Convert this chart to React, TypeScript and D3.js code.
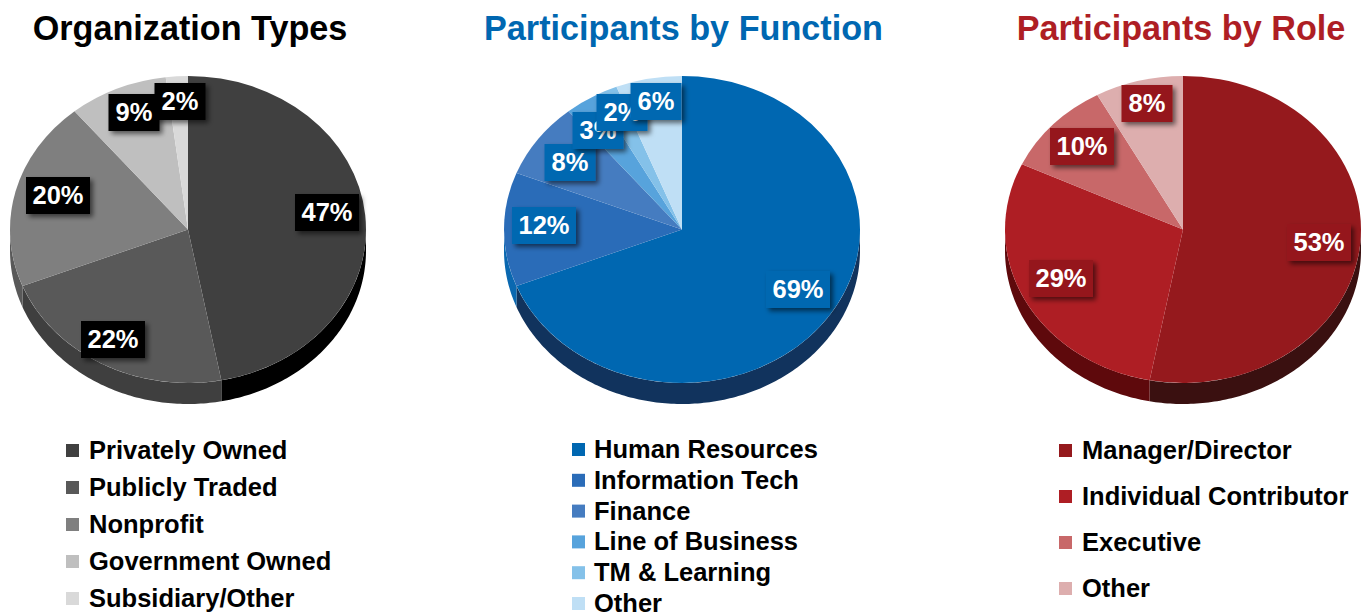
import * as d3 from 'd3';

const orgCategories = ['Privately Owned', 'Publicly Traded', 'Nonprofit', 'Government Owned', 'Subsidiary/Other'];
const orgValues = [47, 22, 20, 9, 2];

const functionCategories = ['Human Resources', 'Information Tech', 'Finance', 'Line of Business', 'TM & Learning', 'Other'];
const functionValues = [69, 12, 8, 3, 2, 6];

const roleCategories = ['Manager/Director', 'Individual Contributor', 'Executive', 'Other'];
const roleValues = [53, 29, 10, 8];

const rx = 178;
const ry = 153.5;
const depth = 21;
const cy = 229.5;

const panels = [
  {
    title: 'Organization Types',
    titleColor: '#000000',
    titleX: 190,
    cx: 188,
    categories: orgCategories,
    values: orgValues,
    colors: ['#404040', '#595959', '#7f7f7f', '#bfbfbf', '#d9d9d9'],
    walls: ['#000000', '#3f3f3f', '#595959', '#7f7f7f', '#999999'],
    labelBox: '#000000',
    labelOffsets: [[139, -17], [-75, 110], [-130, -34], [-54, -117], [-8, -128]],
    legendX: 66,
    legendTextX: 23,
    legendRows: [450, 598],
  },
  {
    title: 'Participants by Function',
    titleColor: '#0067b1',
    titleX: 683.5,
    cx: 682,
    categories: functionCategories,
    values: functionValues,
    colors: ['#0067b1', '#2a6cb8', '#457cc0', '#57a3dc', '#84c1e9', '#bfdff5'],
    walls: ['#11335d', '#0a68b0', '#2a6cb8', '#457cc0', '#57a3dc', '#84c1e9'],
    labelBox: '#0067b1',
    labelOffsets: [[116, 60], [-138, -4], [-112, -67], [-84, -99], [-60, -117], [-26, -128]],
    legendX: 572,
    legendTextX: 22,
    legendRows: [449, 603],
  },
  {
    title: 'Participants by Role',
    titleColor: '#ae1e24',
    titleX: 1181,
    cx: 1183,
    categories: roleCategories,
    values: roleValues,
    colors: ['#95191d', '#ae1e24', '#c86869', '#ddaeae'],
    walls: ['#3a1010', '#5e090c', '#95191d', '#ae1e24'],
    labelBox: '#95191d',
    labelOffsets: [[136, 13], [-122, 49], [-101, -83], [-36, -126]],
    legendX: 1059,
    legendTextX: 23,
    legendRows: [450, 588],
  },
];

const fontFamily = '"Liberation Sans", Arial, sans-serif';

const pie = d3.pie<number>().sort(null);
const arc = d3.arc<d3.PieArcDatum<number>>().innerRadius(0).outerRadius(rx);

// side of the tilted pie: only the part of a slice that faces the viewer
const wall = d3.area<number>()
  .x(a => rx * Math.sin(a))
  .y0(a => -ry * Math.cos(a))
  .y1(a => -ry * Math.cos(a) + depth);

function wallPath(start: number, end: number) {
  const from = Math.max(start, Math.PI / 2);
  const to = Math.min(end, Math.PI * 1.5);
  if (to <= from) return null;
  const steps = Math.max(2, Math.ceil((to - from) * 60));
  return wall(d3.range(steps + 1).map(i => from + ((to - from) * i) / steps));
}

function Panel({ panel }: { panel: (typeof panels)[number] }) {
  const slices = pie(panel.values);
  const legendY = d3.scalePoint<string>().domain(panel.categories).range(panel.legendRows);

  return (
    <g>
      <text
        x={panel.titleX}
        y={40}
        textAnchor="middle"
        fontFamily={fontFamily}
        fontWeight="bold"
        fontSize={34.2}
        fill={panel.titleColor}
      >
        {panel.title}
      </text>

      <g transform={`translate(${panel.cx},${cy})`}>
        {slices.map((s, i) => {
          const d = wallPath(s.startAngle, s.endAngle);
          return d ? <path key={i} d={d} fill={panel.walls[i]} /> : null;
        })}
        <g transform={`scale(1,${ry / rx})`}>
          {slices.map((s, i) => (
            <path key={i} d={arc(s) ?? ''} fill={panel.colors[i]} />
          ))}
        </g>
        {slices.map((s, i) => {
          const label = `${s.value}%`;
          const [dx, dy] = panel.labelOffsets[i];
          const w = label.length > 2 ? 64 : 51;
          return (
            <g key={i} transform={`translate(${dx},${dy})`}>
              <rect x={-w / 2} y={-18.5} width={w} height={37} fill={panel.labelBox} filter="url(#label-shadow)" />
              <text
                y={8.5}
                textAnchor="middle"
                fontFamily={fontFamily}
                fontWeight="bold"
                fontSize={25.5}
                fill="#ffffff"
              >
                {label}
              </text>
            </g>
          );
        })}
      </g>

      {panel.categories.map((c, i) => (
        <g key={c} transform={`translate(${panel.legendX},${legendY(c)})`}>
          <rect x={0} y={-6} width={13} height={13} fill={panel.colors[i]} />
          <text x={panel.legendTextX} y={9} fontFamily={fontFamily} fontWeight="bold" fontSize={25.5} fill="#000000">
            {c}
          </text>
        </g>
      ))}
    </g>
  );
}

export default function App() {
  return (
    <svg width={1364} height={614} style={{ position: 'absolute', left: 0, top: 0, display: 'block' }}>
      <defs>
        <filter id="label-shadow" x="-30%" y="-30%" width="170%" height="170%">
          <feDropShadow dx={3} dy={3} stdDeviation={2.5} floodColor="#000000" floodOpacity={0.55} />
        </filter>
      </defs>
      {panels.map(p => (
        <Panel key={p.title} panel={p} />
      ))}
    </svg>
  );
}
